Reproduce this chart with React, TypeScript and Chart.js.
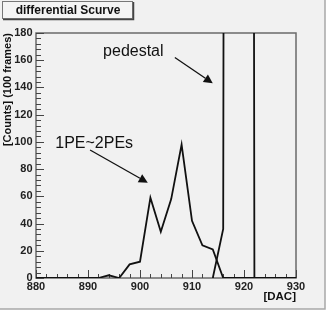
import React, { useEffect, useRef } from "react";
import { Chart, registerables } from "chart.js";

Chart.register(...registerables);

// ---- data ----
const scurveDac = [880, 882, 884, 886, 888, 890, 892, 894, 896, 898, 900, 902, 904, 906, 908, 910, 912, 914, 916, 918, 920, 922, 924, 926, 928, 930];
const scurveCounts = [0, 0, 0, 0, 0, 0, 0, 2, 0, 10, 12, 59, 34, 58, 98, 42, 24, 21, 0, 0, 0, 0, 0, 0, 0, 0];
const pedestalDac = [914, 916, 918, 920, 922, 924, 926, 928, 930];
const pedestalCounts = [0, 36, 5000, 5000, 0, 0, 0, 0, 0];

const xMin = 880;
const xMax = 930;
const yMin = 0;
const yMax = 180;
const xStep = 10;
const yStep = 20;
const xMinorStep = 2;
const yMinorStep = 4;

const titleText = "differential Scurve";
const xTitle = "[DAC]";
const yTitle = "[Counts] (100 frames)";

const noteTexts = ["pedestal", "1PE~2PEs"];
const noteX = [892.9, 883.7];
const noteY = [166, 99];
const arrowFromX = [906.7, 890.4];
const arrowFromY = [162, 94];
const arrowToX = [914.0, 901.5];
const arrowToY = [143, 70];

const FONT = "'Liberation Sans', Arial, Helvetica, sans-serif";

const rootStyle = {
  id: "rootStyle",
  beforeDraw(chart: any) {
    const ctx = chart.ctx;
    ctx.save();
    ctx.fillStyle = "#ffffff";
    ctx.fillRect(0, 0, chart.width, chart.height);
    ctx.fillStyle = "#f1f1f1";
    ctx.fillRect(0, 0, 325, 309);
    ctx.strokeStyle = "#a8a8a8";
    ctx.lineWidth = 1.5;
    ctx.beginPath();
    ctx.moveTo(325, 0);
    ctx.lineTo(325, 309);
    ctx.lineTo(0, 309);
    ctx.stroke();
    ctx.restore();
  },
  beforeDatasetsDraw(chart: any) {
    const ctx = chart.ctx;
    const a = chart.chartArea;
    const xs = chart.scales.x;
    const ys = chart.scales.y;
    ctx.save();
    // frame
    ctx.strokeStyle = "#6a6a6a";
    ctx.lineWidth = 1.5;
    ctx.strokeRect(a.left, a.top, a.right - a.left, a.bottom - a.top);
    // ticks inside
    ctx.strokeStyle = "#444";
    ctx.lineWidth = 1;
    ctx.beginPath();
    for (let v = xMin; v <= xMax + 1e-9; v += xMinorStep) {
      const px = Math.round(xs.getPixelForValue(v)) + 0.5;
      const len = Math.abs(v % xStep) < 1e-9 ? 8 : 4;
      ctx.moveTo(px, a.bottom);
      ctx.lineTo(px, a.bottom - len);
    }
    for (let v = yMin; v <= yMax + 1e-9; v += yMinorStep) {
      const py = Math.round(ys.getPixelForValue(v)) + 0.5;
      const len = Math.abs(v % yStep) < 1e-9 ? 8 : 5;
      ctx.moveTo(a.left, py);
      ctx.lineTo(a.left + len, py);
    }
    ctx.stroke();
    ctx.restore();
  },
  afterDraw(chart: any) {
    const ctx = chart.ctx;
    const xs = chart.scales.x;
    const ys = chart.scales.y;
    ctx.save();
    // title box
    ctx.fillStyle = "#f4f4f4";
    ctx.fillRect(2.5, 1.5, 130, 17);
    ctx.strokeStyle = "#777";
    ctx.lineWidth = 1;
    ctx.strokeRect(2.5, 1.5, 130, 17);
    ctx.strokeStyle = "#444";
    ctx.lineWidth = 1.5;
    ctx.beginPath();
    ctx.moveTo(133.5, 2);
    ctx.lineTo(133.5, 19.5);
    ctx.lineTo(3, 19.5);
    ctx.stroke();
    ctx.fillStyle = "#111";
    ctx.font = `bold 12px ${FONT}`;
    ctx.textAlign = "center";
    ctx.textBaseline = "middle";
    ctx.fillText(titleText, 68, 10.5);

    // notes
    ctx.font = `16px ${FONT}`;
    ctx.textAlign = "left";
    ctx.textBaseline = "middle";
    ctx.fillStyle = "#111";
    for (let i = 0; i < noteTexts.length; i++) {
      ctx.fillText(noteTexts[i], xs.getPixelForValue(noteX[i]), ys.getPixelForValue(noteY[i]));
      const x0 = xs.getPixelForValue(arrowFromX[i]);
      const y0 = ys.getPixelForValue(arrowFromY[i]);
      const x1 = xs.getPixelForValue(arrowToX[i]);
      const y1 = ys.getPixelForValue(arrowToY[i]);
      const ang = Math.atan2(y1 - y0, x1 - x0);
      const hl = 9;
      const hw = 4.5;
      const bx = x1 - hl * Math.cos(ang);
      const by = y1 - hl * Math.sin(ang);
      ctx.strokeStyle = "#111";
      ctx.lineWidth = 1.3;
      ctx.beginPath();
      ctx.moveTo(x0, y0);
      ctx.lineTo(bx, by);
      ctx.stroke();
      ctx.beginPath();
      ctx.moveTo(x1, y1);
      ctx.lineTo(bx + hw * Math.sin(ang), by - hw * Math.cos(ang));
      ctx.lineTo(bx - hw * Math.sin(ang), by + hw * Math.cos(ang));
      ctx.closePath();
      ctx.fill();
    }
    ctx.restore();
  },
};

export default function App() {
  const ref = useRef<HTMLCanvasElement>(null);
  useEffect(() => {
    if (!ref.current) return;
    const chart = new Chart(ref.current, {
      type: "line",
      data: {
        datasets: [
          {
            label: "scurve",
            data: scurveDac.map((x, i) => ({ x, y: scurveCounts[i] })),
            borderColor: "#111",
            borderWidth: 1.8,
            pointRadius: 0,
            tension: 0,
            fill: false,
          },
          {
            label: "pedestal",
            data: pedestalDac.map((x, i) => ({ x, y: pedestalCounts[i] })),
            borderColor: "#111",
            borderWidth: 1.8,
            pointRadius: 0,
            tension: 0,
            fill: false,
          },
        ],
      },
      options: {
        animation: false,
        responsive: false,
        events: [],
        layout: { padding: { left: 0, top: 33, right: 36, bottom: 0 } },
        plugins: { legend: { display: false }, tooltip: { enabled: false }, title: { display: false } },
        scales: {
          x: {
            type: "linear",
            min: xMin,
            max: xMax,
            grid: { display: false, drawTicks: false },
            border: { display: false },
            ticks: {
              stepSize: xStep,
              padding: 2,
              maxRotation: 0,
              color: "#222",
              font: { family: FONT, size: 11, weight: "bold" },
            },
            title: {
              display: true,
              text: xTitle,
              align: "end",
              color: "#111",
              font: { family: FONT, size: 11.5, weight: "bold" },
              padding: { top: 0, bottom: 9 },
            },
            afterFit: (s: any) => {
              s.height = 35;
            },
          },
          y: {
            type: "linear",
            min: yMin,
            max: yMax,
            grid: { display: false, drawTicks: false },
            border: { display: false },
            ticks: {
              stepSize: yStep,
              padding: 3.5,
              color: "#222",
              font: { family: FONT, size: 11, weight: "bold" },
            },
            title: {
              display: true,
              text: yTitle,
              align: "end",
              color: "#111",
              font: { family: FONT, size: 11, weight: "bold" },
              padding: { top: 1.5, bottom: 0 },
            },
            afterFit: (s: any) => {
              s.width = 36;
            },
          },
        },
      },
      plugins: [rootStyle],
    });
    return () => chart.destroy();
  }, []);
  return (
    <div style={{ position: "fixed", left: 0, top: 0, width: 332, height: 313 }}>
      <canvas ref={ref} width={332} height={313} style={{ display: "block" }} />
    </div>
  );
}
